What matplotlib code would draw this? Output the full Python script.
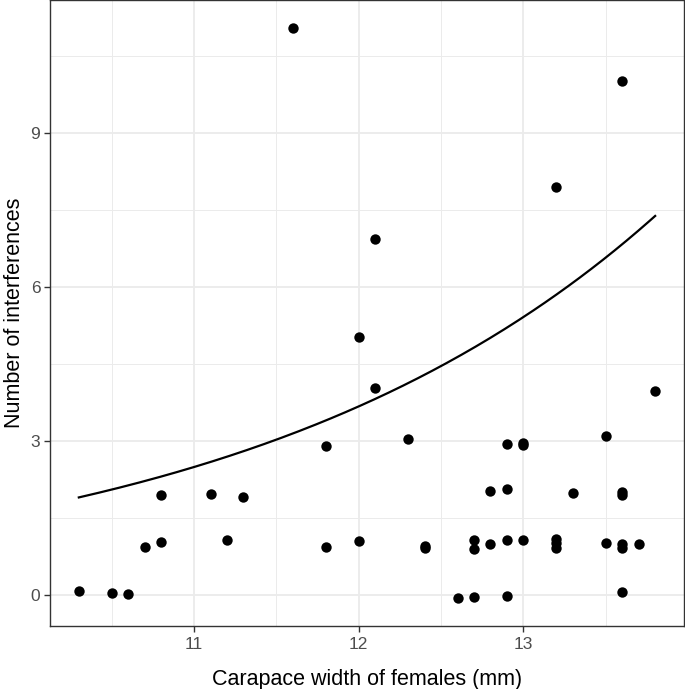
import numpy as np
import matplotlib
matplotlib.use("Agg")
import matplotlib.pyplot as plt

plt.rcParams['font.family'] = ['Liberation Sans', 'DejaVu Sans']

# carapace width (mm) and number of interferences (jittered as drawn)
width = [10.3, 10.5, 10.6, 10.7, 10.8, 10.8, 11.1, 11.2, 11.3, 11.6,
         11.8, 11.8, 12.0, 12.0, 12.1, 12.1, 12.3, 12.4, 12.4, 12.6,
         12.7, 12.7, 12.7, 12.8, 12.8, 12.9, 12.9, 12.9, 12.9, 13.0,
         13.0, 13.0, 13.2, 13.2, 13.2, 13.2, 13.3, 13.5, 13.5, 13.6,
         13.6, 13.6, 13.6, 13.6, 13.6, 13.7, 13.8]
interf = [0.08, 0.03, 0.02, 0.93, 1.03, 1.94, 1.96, 1.07, 1.91, 11.04,
          2.90, 0.93, 5.02, 1.05, 6.93, 4.03, 3.04, 0.92, 0.96, -0.065,
          -0.04, 1.07, 0.90, 2.03, 1.00, 2.95, 2.06, 1.07, -0.02, 2.93,
          2.97, 1.07, 7.95, 1.10, 1.01, 0.92, 1.99, 3.10, 1.01, 10.01,
          2.00, 1.95, 1.00, 0.91, 0.05, 0.99, 3.97]

# fitted poisson model (log link), coefficients
glm_intercept = -3.351
glm_slope = 0.3877

x_ticks = [11, 12, 13]
y_ticks = [0, 3, 6, 9]

xs = np.linspace(min(width), max(width), 200)
ys = np.exp(glm_intercept + glm_slope * xs)

fig = plt.figure(figsize=(6.85, 6.89), dpi=100)
ax = fig.add_axes([0.073, 0.0914, 0.9255, 0.9086])

ax.set_xticks([10.5, 11.5, 12.5, 13.5], minor=True)
ax.set_yticks([1.5, 4.5, 7.5, 10.5], minor=True)
ax.grid(which='major', color='#EBEBEB', lw=1.3)
ax.grid(which='minor', color='#EBEBEB', lw=0.7)
ax.set_axisbelow(True)

ax.scatter(width, interf, s=56, color='black', zorder=3, linewidths=0)
ax.plot(xs, ys, color='black', lw=1.6, zorder=4)

ax.set_xlim(10.125, 13.975)
ax.set_ylim(-0.604, 11.59)
ax.set_xticks(x_ticks)
ax.set_yticks(y_ticks)
ax.tick_params(which='minor', length=0)
ax.tick_params(which='major', length=4, width=1, color='#333333',
               labelcolor='#4D4D4D', labelsize=12.5)
ax.tick_params(axis='x', which='major', pad=4)
ax.tick_params(axis='y', which='major', pad=3)
for sp in ax.spines.values():
    sp.set_color('#333333')
    sp.set_linewidth(1)

ax.set_xlabel('Carapace width of females (mm)', fontsize=15.5, labelpad=12)
ax.set_ylabel('Number of interferences', fontsize=15.5, labelpad=4)

fig.savefig('out.png', dpi=100)
